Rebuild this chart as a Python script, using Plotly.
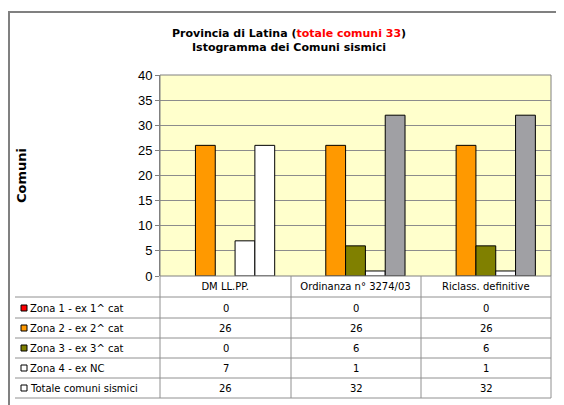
import plotly.graph_objects as go

categories = ["DM LL.PP.", "Ordinanza n° 3274/03", "Riclass. definitive"]
series_names = ["Zona 1 - ex 1^ cat", "Zona 2 - ex 2^ cat", "Zona 3 - ex 3^ cat",
                "Zona 4 - ex NC", "Totale comuni sismici"]
zona1 = [0, 0, 0]
zona2 = [26, 26, 26]
zona3 = [0, 6, 6]
zona4 = [7, 1, 1]
totale = [26, 32, 32]
series_values = [zona1, zona2, zona3, zona4, totale]
series_colors = [["#FF0000"] * 3, ["#FF9900"] * 3, ["#808000"] * 3,
                 ["#FFFFFF"] * 3, ["#FFFFFF", "#A0A0A4", "#A0A0A4"]]
legend_colors = ["#FF0000", "#FF9900", "#808000", "#FFFFFF", "#FFFFFF"]
y_ticks = [0, 5, 10, 15, 20, 25, 30, 35, 40]

OFF = 8  # page body margin
W, H = 564 - OFF, 405 - OFF
L, R, T, B = 160, 551, 75, 276  # plot area in window pixels


def xp(px):
    return (px - L) / (R - L)


def yp(py):
    return (B - py) / (B - T)


fig = go.Figure()
for name, vals, cols in zip(series_names, series_values, series_colors):
    fig.add_trace(go.Bar(x=categories, y=vals, name=name,
                         marker=dict(color=cols,
                                     line=dict(color="#000000",
                                               width=[1 if v > 0 else 0 for v in vals]))))

shapes = []
annotations = []
font = "Liberation Sans, Arial, sans-serif"
wide = "DejaVu Sans, Verdana, sans-serif"

# outer border
shapes.append(dict(type="rect", xref="paper", yref="paper", x0=xp(9), x1=xp(580),
                   y0=yp(420), y1=yp(12), line=dict(color="#808080", width=2), layer="below"))
# plot area border
shapes.append(dict(type="rect", xref="paper", yref="paper", x0=0, x1=1, y0=0, y1=1,
                   line=dict(color="#808080", width=1)))

# table grid
row_lines = [297, 318, 338, 358, 378, 398]
for ry in row_lines:
    shapes.append(dict(type="line", xref="paper", yref="paper", x0=xp(15), x1=xp(R),
                       y0=yp(ry), y1=yp(ry), line=dict(color="#909090", width=1)))
for cx in [L, 291, 421, R]:
    shapes.append(dict(type="line", xref="paper", yref="paper", x0=xp(cx), x1=xp(cx),
                       y0=yp(B), y1=yp(398), line=dict(color="#909090", width=1)))

row_centers = [308, 328, 348, 368, 388]
col_centers = [xp(225.5), xp(356), xp(486)]
for i, (name, vals) in enumerate(zip(series_names, series_values)):
    yc = yp(row_centers[i])
    shapes.append(dict(type="rect", xref="paper", yref="paper",
                       x0=xp(21), x1=xp(27), y0=yc - 3 / (B - T), y1=yc + 3 / (B - T),
                       fillcolor=legend_colors[i], line=dict(color="#000000", width=1)))
    annotations.append(dict(xref="paper", yref="paper", x=xp(28), y=yc, text=name,
                            showarrow=False, xanchor="left", yanchor="middle",
                            font=dict(size=10, color="#000000", family=wide)))
    for j, v in enumerate(vals):
        annotations.append(dict(xref="paper", yref="paper", x=col_centers[j], y=yc,
                                text=str(v), showarrow=False, xanchor="center",
                                yanchor="middle",
                                font=dict(size=10, color="#000000", family=wide)))

# title
annotations.append(dict(xref="paper", yref="paper", x=xp(289), y=yp(40),
                        text="<b>Provincia di Latina (<span style='color:#FF0000'>totale comuni 33</span>)"
                             "<br>Istogramma dei Comuni sismici</b>",
                        showarrow=False, xanchor="center", yanchor="middle",
                        font=dict(size=11, color="#000000", family=wide)))
# y axis title
annotations.append(dict(xref="paper", yref="paper", x=xp(21), y=yp(176), text="<b>Comuni</b>",
                        textangle=-90, showarrow=False, xanchor="center", yanchor="middle",
                        font=dict(size=13, color="#000000", family=wide)))

fig.update_layout(
    width=W, height=H,
    margin=dict(l=L - OFF, r=564 - R, t=T - OFF, b=405 - B),
    paper_bgcolor="#FFFFFF", plot_bgcolor="#FFFFCC",
    barmode="group", bargap=0.24, bargroupgap=0,
    showlegend=False,
    shapes=shapes, annotations=annotations,
    font=dict(family=font, color="#000000"),
    xaxis=dict(type="category", range=[-0.5, 2.5], showgrid=False, zeroline=False,
               showline=False, ticks="", ticklabelstandoff=3,
               tickfont=dict(size=10, family=wide)),
    yaxis=dict(range=[0, 40], tickvals=y_ticks, showgrid=True, gridcolor="#8C8C8C",
               gridwidth=1, zeroline=False, showline=True, linecolor="#808080",
               ticks="outside", ticklen=4, tickcolor="#808080",
               tickfont=dict(size=13, family=font)),
)

fig.write_html("out.html")
